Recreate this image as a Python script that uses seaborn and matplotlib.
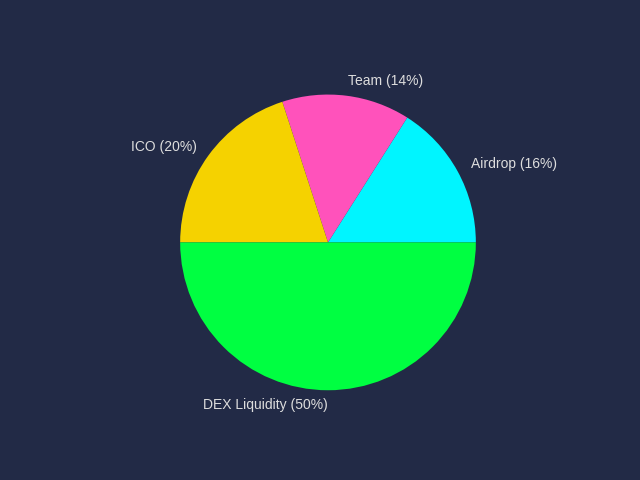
import matplotlib
matplotlib.use("Agg")
import matplotlib.pyplot as plt
import seaborn as sns

labels = ["Airdrop (16%)", "Team (14%)", "ICO (20%)", "DEX Liquidity (50%)"]
values = [16, 14, 20, 50]
colors = ["#00f5ff", "#ff52bb", "#f5d200", "#00ff41"]

sns.set_theme(style="dark")
plt.rcParams["font.family"] = ["Liberation Sans", "DejaVu Sans"]
bg = "#222a46"

fig, ax = plt.subplots(figsize=(6.4, 4.8), dpi=100)
fig.patch.set_facecolor(bg)
ax.set_facecolor(bg)
wedges, texts = ax.pie(values, labels=labels, colors=colors, startangle=0,
                       wedgeprops={"edgecolor": "none", "linewidth": 0},
                       textprops={"color": "#dddddd", "fontsize": 10})
# bottom label sits at x≈0; align it to the right like the reference
texts[3].set_ha("right")
ax.set_aspect("equal")
fig.savefig("out.png", dpi=100, facecolor=bg)
